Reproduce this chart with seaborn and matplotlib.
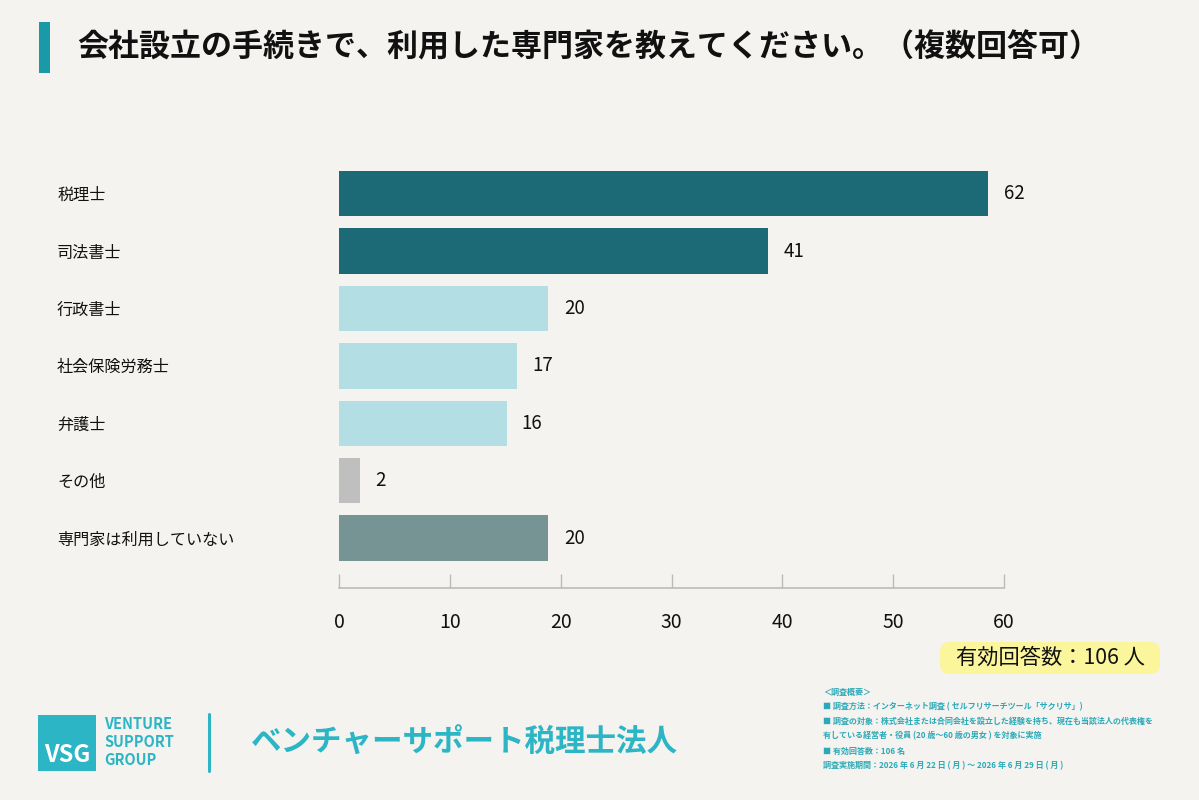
import matplotlib
matplotlib.use("Agg")
import matplotlib.pyplot as plt
from matplotlib.patches import Rectangle, FancyBboxPatch
from matplotlib.lines import Line2D
import seaborn as sns
import pandas as pd

# データ
categories = ['税理士', '司法書士', '行政書士', '社会保険労務士', '弁護士', 'その他', '専門家は利用していない']
counts = [62, 41, 20, 17, 16, 2, 20]
bar_colors = ['#1d6a77', '#1d6a77', '#b3dee3', '#b3dee3', '#b3dee3', '#bfbfbf', '#779494']
tick_labels = [0, 10, 20, 30, 40, 50, 60]
x_max = 63.5  # 元図の目盛りは棒に対して少し詰まっている

title = '会社設立の手続きで、利用した専門家を教えてください。（複数回答可）'
total_label = '有効回答数：106 人'
notes = [
    '＜調査概要＞',
    '■ 調査方法：インターネット調査 ( セルフリサーチツール「サクリサ」)',
    '■ 調査の対象：株式会社または合同会社を設立した経験を持ち、現在も当該法人の代表権を',
    '有している経営者・役員 (20 歳〜60 歳の男女 ) を対象に実施',
    '■ 有効回答数：106 名',
    '調査実施期間：2026 年 6 月 22 日 ( 月 ) 〜 2026 年 6 月 29 日 ( 月 )',
]

BG = '#f4f3ef'
TEAL = '#2bb5c5'

sns.set_theme(style='white')
plt.rcParams['font.family'] = ['Noto Sans CJK JP', 'DejaVu Sans']

df = pd.DataFrame({'category': categories, 'count': counts})

fig = plt.figure(figsize=(11.99, 8), dpi=100, facecolor=BG)
ax = fig.add_axes([339 / 1199, 0.265, 665 / 1199, 0.536])
ax.set_facecolor(BG)

sns.barplot(data=df, x='count', y='category', hue='category',
            palette=bar_colors, legend=False, width=0.79, saturation=1,
            linewidth=0, ax=ax)

for c in ax.containers:
    ax.bar_label(c, padding=11, fontsize=13.5, color='#111111')

ax.set_xlim(0, x_max)
ax.set_ylim(6.87, -0.6)
ax.set_xticks([t * x_max / 60 for t in tick_labels])
ax.set_xticklabels([str(t) for t in tick_labels])
ax.set_xlabel('')
ax.set_ylabel('')

for s in ['top', 'right', 'left']:
    ax.spines[s].set_visible(False)
ax.spines['bottom'].set_color('#bbbbbb')
ax.spines['bottom'].set_linewidth(1.2)
ax.tick_params(axis='x', direction='in', length=10, width=1, color='#bbbbbb',
               pad=17, labelsize=14, labelcolor='#111111', bottom=True)
ax.tick_params(axis='y', length=0, pad=203, labelsize=11.6, labelcolor='#111111')
for lab in ax.get_yticklabels():
    lab.set_horizontalalignment('left')

# タイトル
fig.add_artist(Rectangle((0.39, 8 - 0.73), 0.11, 0.51, transform=fig.dpi_scale_trans,
                         color='#1a9aa6', lw=0))
fig.text(77 / 1199, 1 - 47 / 800, title, fontsize=22.3, fontweight='bold',
         color='#111111', va='center', ha='left')

# 有効回答数
fig.add_artist(FancyBboxPatch((9.40, 8 - 6.74), 2.20, 0.32,
                              boxstyle='round,pad=0,rounding_size=0.1',
                              transform=fig.dpi_scale_trans, fc='#fbf59b', ec='none'))
fig.text(1050 / 1199, 1 - 658 / 800, total_label, fontsize=15.3, color='#111111',
         ha='center', va='center')

# 調査概要
note_y = [692, 707, 721, 736, 751, 766]
for txt, y in zip(notes, note_y):
    fig.text(823 / 1199, 1 - y / 800, txt, fontsize=5.8, color='#2aa9b8',
             fontweight='bold', ha='left', va='center')

# ロゴ
fig.add_artist(Rectangle((0.38, 0.29), 0.58, 0.56, transform=fig.dpi_scale_trans,
                         color=TEAL, lw=0))
fig.text(67 / 1199, 1 - 755 / 800, 'VSG', fontsize=17, fontweight='bold',
         color='white', ha='center', va='center')
for txt, y in zip(['VENTURE', 'SUPPORT', 'GROUP'], [724, 742, 760]):
    fig.text(104 / 1199, 1 - y / 800, txt, fontsize=10.5, fontweight='bold',
             color=TEAL, ha='left', va='center')
fig.add_artist(Line2D([2.09, 2.09], [8 - 7.71, 8 - 7.14], transform=fig.dpi_scale_trans,
                      color=TEAL, lw=2.2))
fig.text(251 / 1199, 1 - 743 / 800, 'ベンチャーサポート税理士法人', fontsize=22,
         fontweight='bold', color=TEAL, ha='left', va='center')

fig.savefig('out.png', dpi=100, facecolor=BG)
